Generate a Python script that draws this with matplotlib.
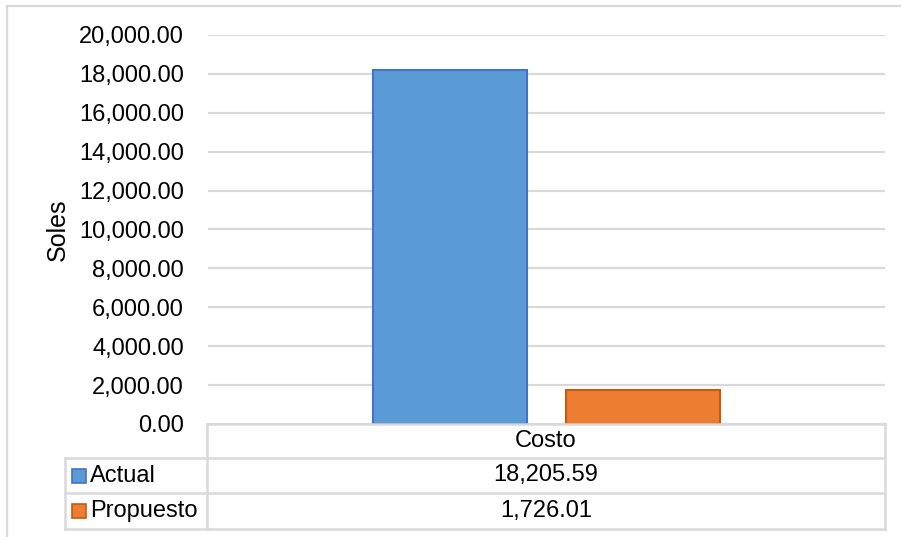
import matplotlib
matplotlib.use("Agg")
import matplotlib.pyplot as plt
from matplotlib.patches import Rectangle
from matplotlib.lines import Line2D

plt.rcParams['font.family'] = ['Liberation Sans', 'DejaVu Sans']

# Data
categories = ["Costo"]
series_names = ["Actual", "Propuesto"]
actual = [18205.59]
propuesto = [1726.01]
y_ticks = [0, 2000, 4000, 6000, 8000, 10000, 12000, 14000, 16000, 18000, 20000]
y_label = "Soles"

fill_colors = ["#5B9BD5", "#ED7D31"]
edge_colors = ["#4472C4", "#C55A11"]
grid_color = "#D9D9D9"

W, H = 901, 537
fig = plt.figure(figsize=(W / 100, H / 100), dpi=100)

def fx(px):
    return px / W

def fy(py):
    return 1 - py / H

FS = 17

# Plot area
left, right, top, bottom = 208, 885, 35, 424
ax = fig.add_axes([fx(left), fy(bottom), fx(right - left), fy(top) - fy(bottom)])
ax.set_xlim(0, 1)
ax.set_ylim(0, 20000)
ax.set_yticks(y_ticks)
ax.set_yticklabels([f"{v:,.2f}" for v in y_ticks], fontsize=FS)
ax.tick_params(axis='y', length=0, pad=17.3)
ax.set_xticks([])
for s in ax.spines.values():
    s.set_visible(False)
ax.yaxis.grid(True, color=grid_color, linewidth=1.6)
ax.set_axisbelow(True)

bar_w = 0.2275
offsets = [-0.143, 0.143]
values = [actual, propuesto]
for i, (vals, off) in enumerate(zip(values, offsets)):
    xs = [0.5 + off + k for k in range(len(categories))]
    ax.bar(xs, vals, width=bar_w, color=fill_colors[i],
           edgecolor=edge_colors[i], linewidth=1.5, zorder=3)

fig.text(fx(58), fy(230), y_label, rotation=90, fontsize=FS + 1,
         ha='center', va='center')

# Outer chart border
fig.add_artist(Rectangle((fx(7), fy(H + 5)), fx(W + 5) - fx(7), fy(6) - fy(H + 5),
                         transform=fig.transFigure, fill=False,
                         edgecolor=grid_color, linewidth=1.6))

# Data table
tl, tm, tr = 65, 207, 885
rows_y = [424, 458, 493, 529]

def hline(x0, x1, y):
    fig.add_artist(Line2D([fx(x0), fx(x1)], [fy(y), fy(y)],
                          transform=fig.transFigure, color=grid_color, linewidth=1.8))

def vline(x, y0, y1):
    fig.add_artist(Line2D([fx(x), fx(x)], [fy(y0), fy(y1)],
                          transform=fig.transFigure, color=grid_color, linewidth=1.8))

hline(tm, tr, rows_y[0])
for y in rows_y[1:]:
    hline(tl, tr, y)
vline(tl, rows_y[1], rows_y[3])
vline(tm, rows_y[0], rows_y[3])
vline(tr, rows_y[0], rows_y[3])

col_center = (tm + tr) / 2
fig.text(fx(col_center), fy((rows_y[0] + rows_y[1]) / 2), categories[0],
         fontsize=FS, ha='center', va='center')

for i, (name, vals) in enumerate(zip(series_names, values)):
    yc = (rows_y[i + 1] + rows_y[i + 2]) / 2
    key = 14
    fig.add_artist(Rectangle((fx(72), fy(yc + key / 2)), fx(key), fy(0) - fy(key),
                             transform=fig.transFigure, facecolor=fill_colors[i],
                             edgecolor=edge_colors[i], linewidth=1.2))
    fig.text(fx(90), fy(yc), name, fontsize=FS, ha='left', va='center')
    fig.text(fx(col_center), fy(yc), f"{vals[0]:,.2f}", fontsize=FS,
             ha='center', va='center')

fig.savefig("out.png", dpi=100)
